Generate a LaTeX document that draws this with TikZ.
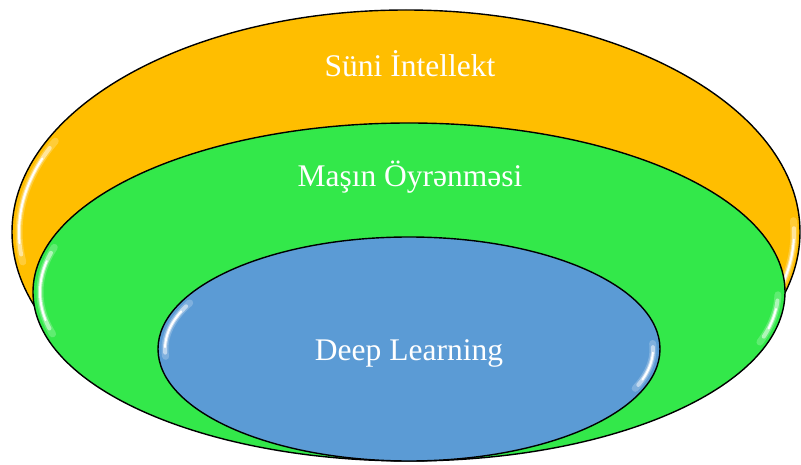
\documentclass[tikz,border=0pt]{standalone}
\usepackage{fontspec}
\setmainfont{Liberation Serif}
\definecolor{aiorange}{HTML}{FFBE00}
\definecolor{mlgreen}{HTML}{33E84A}
\definecolor{dlblue}{HTML}{5B9BD5}
\tikzset{
  setfill/.style={fill=#1, draw=black, line width=1.4pt},
  setlabel/.style={anchor=base, text=white, font=\fontsize{31.5}{36}\selectfont, inner sep=0pt},
  gloss/.style={white, line cap=round, line join=round}
}
% glossy rim highlight: centre, radii, start and end angle
\newcommand{\rimshine}[6]{%
  \begin{scope}[shift={(#1,#2)}]
    \draw[gloss, line width=7pt, opacity=.22] plot[smooth, domain=#5:#6, samples=30] ({(#3)*cos(\x)}, {(#4)*sin(\x)});
    \draw[gloss, line width=4pt, opacity=.5] plot[smooth, domain=#5+2:#6-2, samples=30] ({(#3)*cos(\x)}, {(#4)*sin(\x)});
    \draw[gloss, line width=2pt, opacity=1] plot[smooth, domain=#5+5:#6-5, samples=30] ({(#3)*cos(\x)}, {(#4)*sin(\x)});
  \end{scope}}
\begin{document}
\begin{tikzpicture}[x=1pt, y=-1pt]
  \useasboundingbox (0,0) rectangle (801,465);

  % outer set: artificial intelligence
  \draw[setfill=aiorange] (406,232) ellipse [x radius=394, y radius=222];
  \rimshine{406}{232}{387}{215}{172}{205}
  \rimshine{406}{232}{388}{216}{-3}{18}

  % middle set: machine learning
  \draw[setfill=mlgreen] (409,292) ellipse [x radius=376, y radius=169];
  \rimshine{409}{292}{369}{162}{165}{196}
  \rimshine{409}{292}{369}{162}{1}{18}

  % inner set: deep learning
  \draw[setfill=dlblue] (409,349) ellipse [x radius=251, y radius=112];
  \rimshine{409}{349}{244}{105}{176}{206}
  \rimshine{409}{349}{244}{105}{-3}{22}

  \node[setlabel] (ai) at (410,77) {Süni İntellekt};
  \node[setlabel] (ml) at (410,187) {Maşın Öyrənməsi};
  \node[setlabel] (dl) at (409,360) {Deep Learning};
\end{tikzpicture}
\end{document}
